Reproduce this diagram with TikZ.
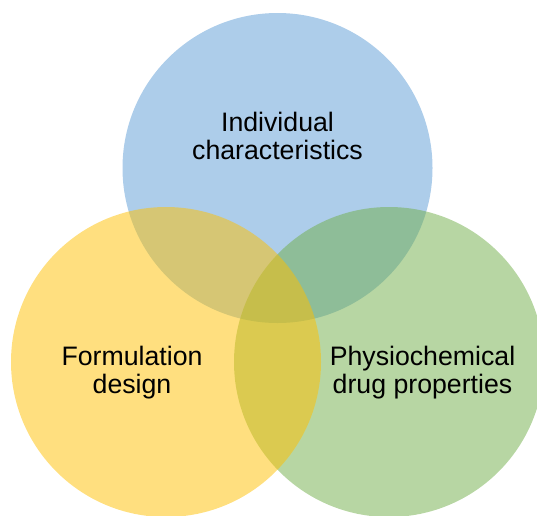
\documentclass[tikz,border=0pt]{standalone}
\usepackage{fontspec}
\setmainfont{Liberation Sans}
\usetikzlibrary{positioning}

\definecolor{vennblue}{HTML}{5B9BD5}
\definecolor{venngreen}{HTML}{70AD47}
\definecolor{vennyellow}{HTML}{FFC000}

\tikzset{
	disc/.style = {fill opacity = 0.5},
	label/.style = {black, align = center, font = \fontsize{26.7}{28}\selectfont}
}

\begin{document}
\begin{tikzpicture}[x = 1pt, y = -1pt]

	\useasboundingbox (0, 0) rectangle (537, 515);
	\clip (0, 0) rectangle (537, 515);
	
	% the three sets
	\fill[disc, vennblue]   (277.5, 168) circle (155);
	\fill[disc, venngreen]  (389, 362) circle (155);
	\fill[disc, vennyellow] (166, 362) circle (155);
	
	\node[label] (indiv) at (277.5, 136) {Individual\\characteristics};
	\node[label] (form)  at (132, 373)   {Formulation\\design};
	\node[label] (drug)  at (422.5, 373) {Physiochemical\\drug properties};
	
\end{tikzpicture}
\end{document}
